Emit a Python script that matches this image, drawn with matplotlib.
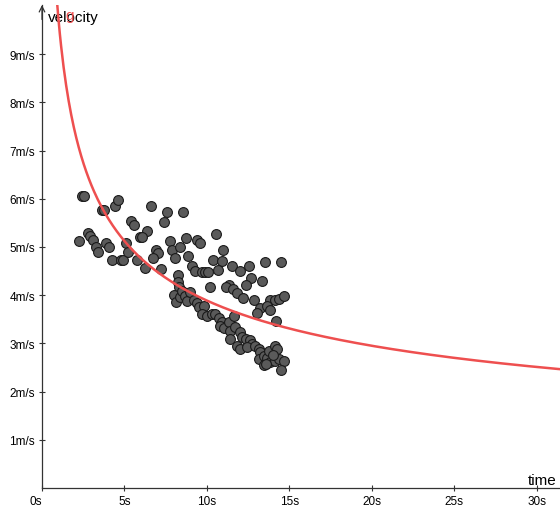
import matplotlib
matplotlib.use("Agg")
import matplotlib.pyplot as plt
import numpy as np

plt.rcParams['font.family'] = ['Liberation Sans', 'DejaVu Sans']

# measured points: time (s) and velocity (m/s)
time_s = [2.41, 2.57, 3.62, 3.76, 4.43, 4.60, 6.58, 7.57, 7.41, 8.54,
          5.39, 5.59, 6.39, 5.95, 6.09, 2.26, 2.77, 2.91, 3.08, 3.28,
          3.42, 3.89, 4.09, 4.27, 4.80, 4.94, 5.10, 5.24, 5.75, 6.25,
          6.90, 7.06, 6.71, 7.23, 7.73, 7.88, 8.06, 8.39, 8.74, 9.37,
          9.55, 10.55, 8.88, 10.37, 10.98, 10.91, 9.07, 9.25, 9.71, 9.90,
          10.07, 10.66, 11.52, 12.02, 12.53, 13.50, 14.51, 12.69, 13.36, 12.37,
          11.32, 11.17, 11.57, 11.83, 12.20, 12.87, 13.84, 14.12, 14.35, 14.69,
          13.24, 13.05, 13.66, 13.80, 14.16, 10.21, 8.23, 8.26, 8.29, 8.03,
          8.12, 8.35, 8.50, 8.68, 8.79, 8.99, 9.19, 9.39, 9.49, 9.79,
          9.70, 10.00, 10.30, 10.50, 10.70, 10.91, 10.81, 11.01, 11.31, 11.62,
          11.41, 11.72, 12.02, 12.13, 11.41, 11.82, 12.02, 12.39, 12.59, 12.73,
          12.43, 12.93, 13.13, 13.24, 13.13, 13.44, 13.64, 13.74, 14.15, 14.25,
          13.84, 14.15, 14.35, 14.69, 13.44, 13.60, 14.49, 13.99]
velocity = [6.06, 6.06, 5.77, 5.77, 5.86, 5.98, 5.86, 5.72, 5.52, 5.72,
            5.53, 5.46, 5.34, 5.20, 5.20, 5.13, 5.28, 5.22, 5.15, 5.01,
            4.89, 5.08, 5.01, 4.74, 4.74, 4.74, 5.08, 4.89, 4.74, 4.56,
            4.94, 4.88, 4.77, 4.55, 5.13, 4.94, 4.77, 4.99, 5.19, 5.14,
            5.08, 5.27, 4.81, 4.74, 4.94, 4.70, 4.61, 4.50, 4.49, 4.49,
            4.49, 4.53, 4.61, 4.50, 4.61, 4.68, 4.68, 4.36, 4.30, 4.22,
            4.22, 4.16, 4.12, 4.04, 3.94, 3.91, 3.91, 3.91, 3.92, 3.98,
            3.73, 3.64, 3.78, 3.69, 3.46, 4.16, 4.42, 4.27, 4.18, 4.01,
            3.85, 3.96, 4.09, 3.99, 3.87, 4.07, 3.89, 3.83, 3.75, 3.78,
            3.61, 3.57, 3.62, 3.60, 3.52, 3.44, 3.37, 3.31, 3.44, 3.56,
            3.26, 3.33, 3.23, 3.13, 3.09, 2.95, 2.88, 3.09, 3.06, 2.99,
            2.92, 2.95, 2.88, 2.82, 2.68, 2.74, 2.69, 2.85, 2.95, 2.88,
            2.61, 2.64, 2.68, 2.64, 2.55, 2.57, 2.45, 2.76]

# power-law curve g(t) = a * t^b, coefficients
g_a = 9.72
g_b = -0.398

x_ticks = [0, 5, 10, 15, 20, 25, 30]
y_ticks = [1, 2, 3, 4, 5, 6, 7, 8, 9]
x_max = 31.4
y_max = 10.02

fig = plt.figure(figsize=(5.6, 5.1), dpi=100)
ax = fig.add_axes([42 / 560, 21 / 510, 518 / 560, 483 / 510])

ax.scatter(time_s, velocity, s=50, color='#5a5a5a', edgecolors='#1a1a1a',
           linewidths=0.8, zorder=3)

tt = np.linspace(0.85, x_max, 400)
ax.plot(tt, g_a * tt ** g_b, color='#ee4f4f', lw=1.8, zorder=4)

ax.set_xlim(0, x_max)
ax.set_ylim(0, y_max)
for s in ['top', 'right']:
    ax.spines[s].set_visible(False)
for s in ['left', 'bottom']:
    ax.spines[s].set_color('#333333')
    ax.spines[s].set_linewidth(0.9)

ax.set_xticks(x_ticks)
ax.set_xticklabels([f"{v}s" for v in x_ticks])
ax.set_yticks(y_ticks)
ax.set_yticklabels([f"{v}m/s" for v in y_ticks])
ax.tick_params(direction='inout', length=4, width=0.8, color='#333333',
               labelsize=8.5, pad=3)
ax.get_xticklabels()[0].set_horizontalalignment('right')

# arrow at top of y axis
ax.annotate('', xy=(0, y_max), xytext=(0, y_max - 0.3),
            arrowprops=dict(arrowstyle='->', lw=0.9, color='#333333',
                            shrinkA=0, shrinkB=0), annotation_clip=False)

ax.text(0.36, 9.77, 'velocity', fontsize=11, va='center', ha='left')
ax.text(30.3, 0.17, 'time', fontsize=11, va='center', ha='center')
ax.text(1.68, 9.82, 'g', fontsize=11, color='#ee4f4f', va='center', ha='center')

fig.savefig('out.png', dpi=100)
